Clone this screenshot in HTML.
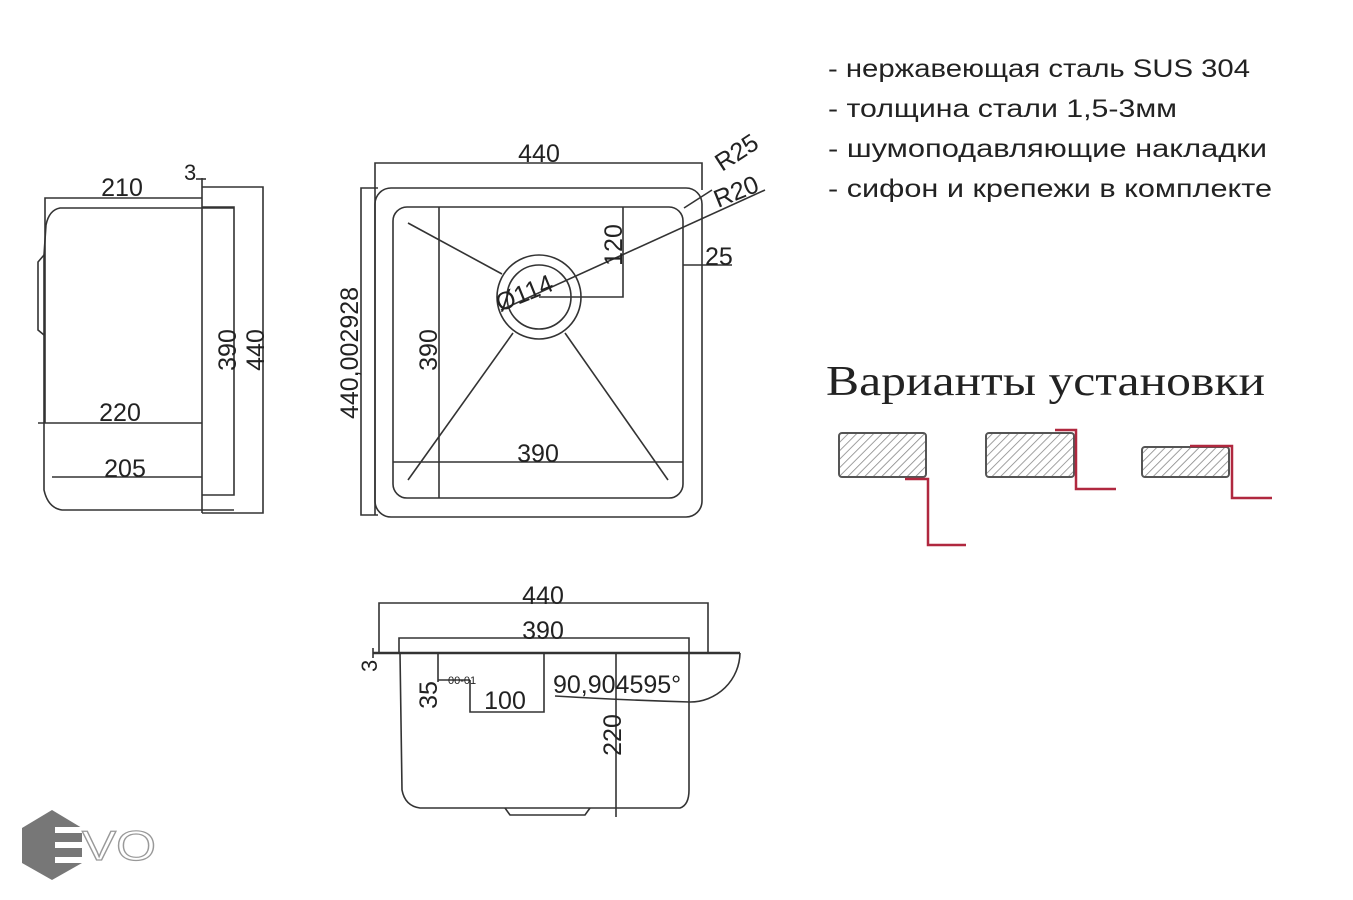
<!DOCTYPE html>
<html><head><meta charset="utf-8"><style>
html,body{margin:0;padding:0;background:#fff;}
svg{display:block;}
text{font-family:"Liberation Sans",sans-serif;fill:#222;}
</style></head><body>
<svg width="1353" height="900" viewBox="0 0 1353 900" xmlns="http://www.w3.org/2000/svg">
<defs>
<pattern id="h" width="6" height="6" patternUnits="userSpaceOnUse" patternTransform="rotate(45)">
<rect width="6" height="6" fill="#fff"/><line x1="0" y1="0" x2="0" y2="6" stroke="#888" stroke-width="1.6"/>
</pattern>
</defs>
<g stroke="#333" stroke-width="1.6" fill="none">
<!-- side view -->
<line x1="202" y1="178" x2="202" y2="513"/>
<line x1="196" y1="179" x2="206" y2="179"/>
<polyline points="202,187 263,187 263,513 202,513"/>
<polyline points="202,207 234,207 234,495 202,495"/>
<polyline points="45,423 45,198 202,198"/>
<line x1="38" y1="423" x2="202" y2="423"/>
<line x1="52" y1="477" x2="202" y2="477"/>
<path d="M234,208 L60,208 Q49,210 46,225 L44,255 L44,490 Q48,508 62,510 L234,510"/>
<path d="M44,255 L38,262 L38,330 L44,335"/>
<!-- top view -->
<polyline points="375,515 375,163 702,163 702,190"/>
<polyline points="378,188 361,188 361,515 378,515"/>
<rect x="375" y="188" width="327" height="329" rx="16"/>
<rect x="393" y="207" width="290" height="291" rx="14"/>
<line x1="439" y1="207" x2="439" y2="498"/>
<line x1="393" y1="462" x2="683" y2="462"/>
<circle cx="539" cy="297" r="42"/>
<circle cx="539" cy="297" r="32"/>
<polyline points="539,297 623,297 623,207"/>
<line x1="408" y1="223" x2="502" y2="274"/>
<line x1="408" y1="480" x2="513" y2="333"/>
<line x1="668" y1="480" x2="565" y2="333"/>
<line x1="501" y1="310" x2="765" y2="190"/>
<line x1="684" y1="208" x2="712" y2="190"/>
<line x1="683" y1="265" x2="732" y2="265"/>
<!-- front view -->
<polyline points="379,653 379,603 708,603 708,653"/>
<polyline points="399,653 399,638 689,638 689,653"/>
<line x1="373" y1="653" x2="740" y2="653" stroke-width="2.4"/>
<line x1="373" y1="648" x2="373" y2="658"/>
<path d="M740,653 A50,50 0 0 1 690,702"/>
<path d="M555,696 Q620,700 690,702"/>
<path d="M400,653 L402,790 Q405,806 420,808 L680,808 Q689,805 689,790 L689,653"/>
<line x1="616" y1="653" x2="616" y2="817"/>
<line x1="438" y1="653" x2="438" y2="682"/>
<line x1="438" y1="680" x2="470" y2="680"/>
<polyline points="470,680 470,712 544,712 544,653"/>
<path d="M505,808 L510,815 L585,815 L590,808"/>
</g>
<g font-size="25">
<!-- side labels -->
<text x="184" y="180" font-size="22">3</text>
<text x="122" y="196" text-anchor="middle">210</text>
<text x="120" y="421" text-anchor="middle">220</text>
<text x="125" y="477" text-anchor="middle">205</text>
<text transform="translate(236,350) rotate(-90)" text-anchor="middle">390</text>
<text transform="translate(264,350) rotate(-90)" text-anchor="middle">440</text>
<!-- top labels -->
<text x="539" y="162" text-anchor="middle">440</text>
<text transform="translate(722,172) rotate(-33)">R25</text>
<text transform="translate(718,208) rotate(-22)">R20</text>
<text transform="translate(622,245) rotate(-90)" text-anchor="middle">120</text>
<text x="705" y="265">25</text>
<text transform="translate(500,312) rotate(-22)">Ø114</text>
<text transform="translate(437,350) rotate(-90)" text-anchor="middle">390</text>
<text transform="translate(358,353) rotate(-90)" text-anchor="middle">440,002928</text>
<text x="538" y="462" text-anchor="middle">390</text>
<!-- front labels -->
<text x="543" y="604" text-anchor="middle">440</text>
<text x="543" y="639" text-anchor="middle">390</text>
<text transform="translate(377,672) rotate(-90)" font-size="22">3</text>
<text transform="translate(437,695) rotate(-90)" text-anchor="middle">35</text>
<text x="448" y="684" font-size="11">00-01</text>
<text x="505" y="709" text-anchor="middle">100</text>
<text x="553" y="693">90,904595°</text>
<text transform="translate(621,735) rotate(-90)" text-anchor="middle">220</text>
</g>
<!-- right text -->
<g font-size="25" fill="#1a1a1a">
<text x="828" y="77" textLength="422" lengthAdjust="spacingAndGlyphs">- нержавеющая сталь SUS 304</text>
<text x="828" y="117" textLength="349" lengthAdjust="spacingAndGlyphs">- толщина стали 1,5-3мм</text>
<text x="828" y="157" textLength="439" lengthAdjust="spacingAndGlyphs">- шумоподавляющие накладки</text>
<text x="828" y="197" textLength="444" lengthAdjust="spacingAndGlyphs">- сифон и крепежи в комплекте</text>
</g>
<text x="826" y="395" font-size="42" textLength="439" lengthAdjust="spacingAndGlyphs" style="font-family:'Liberation Serif',serif">Варианты установки</text>
<!-- mounting -->
<g stroke="#555" stroke-width="2">
<rect x="839" y="433" width="87" height="44" rx="3" fill="url(#h)"/>
<rect x="986" y="433" width="88" height="44" rx="3" fill="url(#h)"/>
<rect x="1142" y="447" width="87" height="30" rx="3" fill="url(#h)"/>
</g>
<g stroke="#b0283f" stroke-width="2.5" fill="none">
<polyline points="905,479 928,479 928,545 966,545"/>
<polyline points="1055,430 1076,430 1076,489 1116,489"/>
<polyline points="1190,446 1232,446 1232,498 1272,498"/>
</g>
<!-- logo -->
<polygon points="52,810 82,828 82,863 52,880 22,863 22,828" fill="#777"/>
<g fill="#fff"><rect x="55" y="827" width="28" height="6"/><rect x="55" y="842" width="28" height="6"/><rect x="55" y="857" width="28" height="6"/></g>
<text x="82" y="860" font-size="42" textLength="74" lengthAdjust="spacingAndGlyphs" style="fill:#fff;stroke:#999;stroke-width:1.2">VO</text>
</svg>
</body></html>
